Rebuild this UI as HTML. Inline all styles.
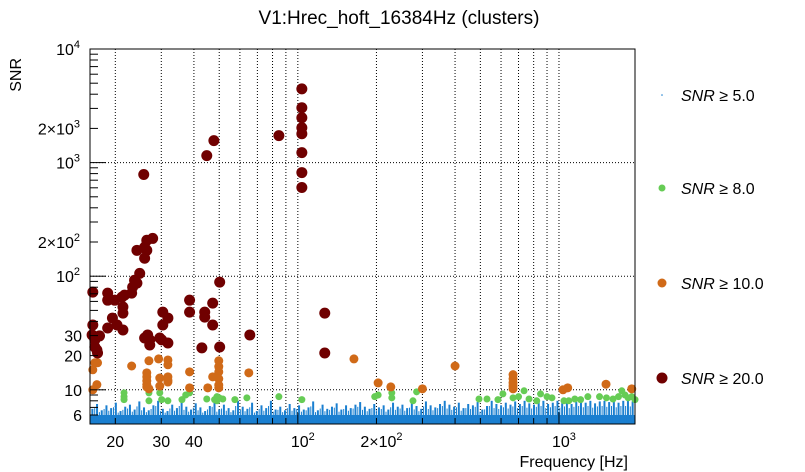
<!DOCTYPE html>
<html><head><meta charset="utf-8"><style>
body{margin:0;background:#fff;}
svg{display:block;font-family:"Liberation Sans",sans-serif;}
</style></head><body>
<svg id="c" width="805" height="472" xmlns="http://www.w3.org/2000/svg">
<rect width="805" height="472" fill="#fff"/>
<text x="399" y="24" font-size="19" text-anchor="middle">V1:Hrec_hoft_16384Hz (clusters)</text>
<text transform="translate(21,58) rotate(-90)" font-size="16" text-anchor="end">SNR</text>
<text x="628" y="467" font-size="16" text-anchor="end">Frequency [Hz]</text>
<g id="grid"></g>
<g id="noise"></g>
<g id="pts"></g>
<g id="axes"></g>
<g id="legend"></g>
</svg>
<script>
const xTickVals=[20,30,40,100,200,1000];
const xTickLabels=["20","30","40","10^2","2×10^2","10^3"];
const yTickVals=[10000,2000,1000,200,100,30,20,10,6];
const yTickLabels=["10^4","2×10^3","10^3","2×10^2","10^2","30","20","10","6"];
const redF=[16.4,16.4,16.3,16.7,16.7,17.0,17.1,17.4,18.7,18.7,19.9,21.2,21.7,23.1,23.3,23.7,24.8,24.2,18.7,19.5,20.3,21.4,21.4,21.4,24.2,25.9,26.4,25.9,27.8,26.4,25.7,26.6,27.1,27.1,25.9,29.6,30.4,31.8,30.4,31.8,30.1,38.5,38.5,42.9,44,44,47.2,47.2,50.2,50.2,65.5,126.8,126.8,44.8,47.7,84.6,103.6,103.6,103.6,103.6,103.6,103.6,103.6,103.6];
const redS=[72.4,37.2,30.4,27.5,23.8,22.4,21.1,29.8,71,61.5,61.5,65.4,68.1,71,80.1,92.2,106,86.9,35,42.8,37.2,33.6,53.5,47.3,169,180,169,144,215,207,785,30.4,27.5,24.8,28.6,28.6,48.3,42.8,37.2,25.8,27.5,61.5,48.3,23.4,48.3,43.6,58,37.2,88.6,23.8,30.4,47.3,21.1,1151,1560,1726,4457,3040,2483,2028,1796,1224,817,604];
const orangeF=[16.4,16.7,17.1,16.4,17,23.1,26.4,26.4,26.4,26.4,26.4,26.9,26.9,29.3,29.6,29.6,31.8,31.8,31.8,31.8,31.8,38.5,38.5,45.2,47.2,49.8,49.8,49.8,49.8,49.8,49.8,64.9,164,203,227,300,400,667,667,667,667,667,1036,1080,1514,1900];
const orangeS=[15,17.3,17.3,10,11.1,16.2,14.1,13,12,11.1,10.6,10.2,18,18.7,12.7,10.8,18.3,16.6,13,12.2,11.7,14.4,10.4,10.4,13,18,16,14.4,12.5,11,10.4,14.1,18.7,11.5,10.6,10.2,16.2,13.6,12.5,11.5,10.8,10.2,10,10.4,11.2,10.2];
const greenF=[21.6,21.6,21.6,26.9,26.9,29.6,30.1,31.8,36,37.2,38.5,44.8,49,49,50,51.6,48,57.4,63.8,84.6,103.6,197,203,229,229,276,285,494,530,584,610,667,700,735,768,822,850,900,940,1045,1090,1150,1210,1290,1430,1520,1610,1690,1740,1790,1840,1900,1955];
const greenS=[9.4,8.7,8.2,9.4,8.0,9.4,8.2,8.0,8.2,9.0,9.4,8.3,8.7,8.0,8.5,8.3,8.2,8.2,8.5,8.7,8.2,8.7,9.0,9.4,8.5,8.0,9.6,8.3,8.3,8.2,9.2,8.5,8.7,9.8,8.3,8.0,9.2,8.7,8.5,8.0,8.0,8.3,8.2,8.7,8.7,8.5,8.3,8.7,9.8,9.0,8.5,8.7,8.2];
const noiseS=[6.8,7.5,6.6,7.3,6.9,7.7,6.5,7.1,7.4,6.7,7.9,7.0,6.6,7.3,8.0,6.8,6.5,7.4,6.9,8.0,7.1,6.7,7.6,7.0,6.5,7.2,7.8,6.7,7.4,6.9,6.6,8.0,7.1,6.8,7.7,6.5,7.3,6.9,8.0,6.7,7.1,6.6,7.5,6.9,7.3,6.7,7.0,7.9,6.6,7.4,6.8,7.1,7.6,6.7,7.3,6.9,7.4,7.8,7.1,6.8,7.5,7.0,7.3,6.7,7.7,7.1,7.4,6.9,7.6,7.2,6.8,7.9,7.3,7.0,7.5,8.0,7.4,7.1,7.7,6.9,7.5,7.3,7.8,6.7,7.2,8.0,7.5,7.3,7.7,7.4,7.9,7.5,8.0,7.6,7.4,7.8,8.0,7.5,7.7,8.0,7.6,7.9,7.5,7.8,8.0,7.7,8.0,7.6,7.9,8.0,7.8,8.0,7.7,8.0,8.0,7.9];
const NS="http://www.w3.org/2000/svg";
const L=90,R=635,T=49,B=424;
const xmin=16,xmax=1955,ymin=5,ymax=10000;
function X(v){return L+(Math.log10(v)-Math.log10(xmin))/(Math.log10(xmax)-Math.log10(xmin))*(R-L);}
function Y(v){return B-(Math.log10(v)-Math.log10(ymin))/(Math.log10(ymax)-Math.log10(ymin))*(B-T);}
function mk(tag,attrs,parent){const e=document.createElementNS(NS,tag);for(const k in attrs)e.setAttribute(k,attrs[k]);parent.appendChild(e);return e;}
const grid=document.getElementById('grid'),axes=document.getElementById('axes'),noise=document.getElementById('noise'),pts=document.getElementById('pts'),leg=document.getElementById('legend');
for(let d=10;d<=1000;d*=10){for(let m=1;m<10;m++){const v=d*m;if(v<xmin||v>xmax)continue;const x=X(v);
const g=mk('line',{x1:x,x2:x,y1:T,y2:B,stroke:'#000','stroke-width':1,'stroke-dasharray':'1,2'},grid);

const t=mk('line',{x1:x,x2:x,y1:B,y2:B-(m===1?11:6),stroke:'#000','stroke-width':1},axes);
}}
[10,100,1000].forEach(v=>{const y=Y(v);const g=mk('line',{x1:L,x2:R,y1:y,y2:y,stroke:'#000','stroke-width':1,'stroke-dasharray':'1,2'},grid);
});
for(let d=1;d<=1000;d*=10){for(let m=1;m<10;m++){const v=d*m;if(v<ymin||v>ymax)continue;const y=Y(v);
const t=mk('line',{x1:L,x2:L+(m===1?16:8),y1:y,y2:y,stroke:'#000','stroke-width':1},axes);
}}
const nb=noiseS.length,lx0=Math.log10(xmin),lx1=Math.log10(xmax);
const base=mk('rect',{x:L,y:Y(6.0),width:R-L,height:B-Y(6.0),fill:'#1a7fd0'},noise);

for(let i=0;i<nb;i++){const f=Math.pow(10,lx0+(i+0.5)/nb*(lx1-lx0));const x=X(f);const y=Y(noiseS[i]);
const r=mk('rect',{x:x-1,y:y,width:2,height:B-y,fill:'#1a7fd0'},noise);

const f2=Math.pow(10,lx0+(i+0.0)/nb*(lx1-lx0));const y2=Y(6+(noiseS[i]-6)*0.6);
const r2=mk('rect',{x:X(f2)-0.5,y:y2,width:1,height:B-y2,fill:'#1a7fd0'},noise);
}
function series(F,S,r,col,name){for(let i=0;i<F.length;i++){const c=mk('circle',{cx:X(F[i]),cy:Y(S[i]),r:r,fill:col},pts);
}}
series(greenF,greenS,3.5,'#66cc55','point-snr-8');
series(orangeF,orangeS,4.5,'#d06a18','point-snr-10');
series(redF,redS,5.5,'#700000','point-snr-20');
const fr=mk('rect',{x:L,y:T,width:R-L,height:B-T,fill:'none',stroke:'#000','stroke-width':1},axes);

function lab(txt,x,y,anchor,name){const t=mk('text',{x:x,y:y,'font-size':16,'text-anchor':anchor},axes);

const p=txt.split('^');t.appendChild(document.createTextNode(p[0]));
if(p[1]){const s=mk('tspan',{dy:-7,'font-size':11},t);s.textContent=p[1];}return t;}
xTickVals.forEach((v,i)=>{const x=X(v);const has=xTickLabels[i].includes('^');lab(xTickLabels[i],x+(has?5:0),447,'middle','x-tick-label');});
yTickVals.forEach((v,i)=>{const y=Y(v);const has=yTickLabels[i].includes('^');lab(yTickLabels[i],has?80:82,y+6,'end','y-tick-label');});
const lrows=[["5.0",'#1a7fd0',0.8,95],["8.0",'#66cc55',3.5,188],["10.0",'#d06a18',4.5,283],["20.0",'#700000',5.5,378]];
lrows.forEach(r=>{const c=mk('circle',{cx:662,cy:r[3],r:r[2],fill:r[1]},leg);

const t=mk('text',{x:681,y:r[3]+6,'font-size':16},leg);

const s=mk('tspan',{'font-style':'italic'},t);s.textContent='SNR';
t.appendChild(document.createTextNode(' ≥ '+r[0]));});
</script>
</body></html>
